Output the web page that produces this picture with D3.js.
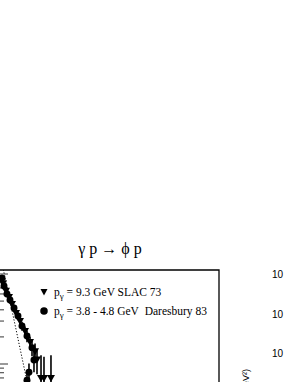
<!DOCTYPE html>
<html>
<head>
<meta charset="utf-8">
<script src="https://cdn.jsdelivr.net/npm/d3@7"></script>
<style>
  body { margin: 0; background: #fff; }
  svg { display: block; }
</style>
</head>
<body>
<svg id="chart"></svg>
<script>
// SLAC 73 (triangles): |t| in GeV^2, dsigma/dt, error
var slacT   = [0.073, 0.127, 0.182, 0.236, 0.309, 0.382, 0.473, 0.564, 0.655, 0.691, 0.764, 0.818, 0.945];
var slacV   = [0.79, 0.65, 0.555, 0.464, 0.369, 0.30, 0.233, 0.176, 0.139, 0.112, 0.070, 0.070, 0.070];
var slacErr = [0.06, 0.05, 0.045, 0.04, 0.035, 0.03, 0.028, 0.025, 0.03, 0.035, 0.055, 0.05, 0.055];

// Daresbury 83 (circles)
var dareT   = [0.055, 0.091, 0.145, 0.2, 0.273, 0.345, 0.418, 0.509, 0.545, 0.6, 0.636, 0.509];
var dareV   = [0.90, 0.736, 0.60, 0.514, 0.419, 0.341, 0.264, 0.205, 0.081, 0.152, 0.111, 0.066];
var dareErr = [0.08, 0.06, 0.05, 0.045, 0.04, 0.035, 0.03, 0.03, 0.02, 0.03, 0.03, 0.02];

// dotted fit line
var fitT = [0, 0.6];
var fitV = [1.9, 0.035];

var yMajor = [0.01, 0.1, 1];
var rightLabels = ["10", "10", "10"];

var W = 285, H = 382;
var svg = d3.select("#chart").attr("width", W).attr("height", H);

var box = { left: -1, right: 219, top: 270, bottom: 440 };

var xScale = d3.scaleLinear().domain([0, 4]).range([box.left, box.right]);
var yScale = d3.scaleLog().domain([0.1, 1]).range([364, 274]);

svg.append("defs").append("clipPath").attr("id", "clip")
    .append("rect")
    .attr("x", box.left).attr("y", box.top)
    .attr("width", box.right - box.left).attr("height", box.bottom - box.top);

var serif = "Liberation Serif, Times New Roman, serif";

// title
svg.append("text")
    .attr("x", 110).attr("y", 254)
    .attr("text-anchor", "middle")
    .style("font-family", serif)
    .style("font-size", "16px")
    .text("\u03b3 p \u2192 \u03d5 p");

// frame
svg.append("path")
    .attr("d", "M" + box.left + "," + box.bottom + "V" + box.top + "H" + box.right + "V" + box.bottom)
    .attr("fill", "none")
    .attr("stroke", "#000")
    .attr("stroke-width", 1.3);

// log ticks on the left axis
var yTicks = yScale.copy().domain([0.01, 10]).ticks();
svg.append("g")
    .selectAll("line")
    .data(yTicks)
    .join("line")
    .attr("x1", box.left)
    .attr("x2", function(d) { return yMajor.indexOf(d) >= 0 ? box.left + 9 : box.left + 5; })
    .attr("y1", function(d) { return yScale(d); })
    .attr("y2", function(d) { return yScale(d); })
    .attr("stroke", "#000")
    .attr("stroke-width", 0.8)
    .attr("clip-path", "url(#clip)");

var plot = svg.append("g").attr("clip-path", "url(#clip)");

// fit line
var line = d3.line()
    .x(function(d) { return xScale(d[0]); })
    .y(function(d) { return yScale(d[1]); });

plot.append("path")
    .datum(d3.zip(fitT, fitV))
    .attr("d", line)
    .attr("fill", "none")
    .attr("stroke", "#000")
    .attr("stroke-width", 1)
    .attr("stroke-dasharray", "1.2,1.8");

function drawSeries(ts, vs, es, shape) {
    var pts = d3.zip(ts, vs, es);
    plot.append("g")
        .selectAll("line")
        .data(pts)
        .join("line")
        .attr("x1", function(d) { return xScale(d[0]); })
        .attr("x2", function(d) { return xScale(d[0]); })
        .attr("y1", function(d) { return yScale(d[1] + d[2]); })
        .attr("y2", function(d) { return yScale(Math.max(d[1] - d[2], 0.001)); })
        .attr("stroke", "#000")
        .attr("stroke-width", 1.6);
    plot.append("g")
        .selectAll("path")
        .data(pts)
        .join("path")
        .attr("transform", function(d) { return "translate(" + xScale(d[0]) + "," + yScale(d[1]) + ")"; })
        .attr("d", shape)
        .attr("fill", "#000");
}

var triDown = "M-4,-3L4,-3L0,4Z";
var circ = d3.symbol().type(d3.symbolCircle).size(38)();

drawSeries(slacT, slacV, slacErr, triDown);
drawSeries(dareT, dareV, dareErr, circ);

// legend
var legend = svg.append("g").style("font-family", serif).style("font-size", "11.5px");
legend.append("path").attr("transform", "translate(44,292)").attr("d", "M-3.5,-3L3.5,-3L0,3.5Z");
legend.append("path").attr("transform", "translate(44,311)").attr("d", d3.symbol().type(d3.symbolCircle).size(44)());

var l1 = legend.append("text").attr("x", 54).attr("y", 296);
l1.append("tspan").text("p");
l1.append("tspan").attr("dy", 3).style("font-size", "9px").text("\u03b3");
l1.append("tspan").attr("dy", -3).text(" = 9.3 GeV SLAC 73");

var l2 = legend.append("text").attr("x", 54).attr("y", 315);
l2.append("tspan").text("p");
l2.append("tspan").attr("dy", 3).style("font-size", "9px").text("\u03b3");
l2.append("tspan").attr("dy", -3).text(" = 3.8 - 4.8 GeV\u00a0 Daresbury 83");

// neighbouring panel, cut off at the right edge
svg.append("g")
    .selectAll("text")
    .data(rightLabels)
    .join("text")
    .attr("x", 272)
    .attr("y", function(d, i) { return 278 + i * 39.5; })
    .style("font-family", "Liberation Sans, Arial, sans-serif")
    .style("font-size", "10px")
    .text(function(d) { return d; });

svg.append("text")
    .attr("transform", "translate(249,369) rotate(-90)")
    .attr("text-anchor", "end")
    .style("font-family", "Liberation Sans, Arial, sans-serif")
    .style("font-size", "9px")
    .text("d\u03c3/dt (\u03bcb/GeV\u00b2)");
</script>
</body>
</html>
